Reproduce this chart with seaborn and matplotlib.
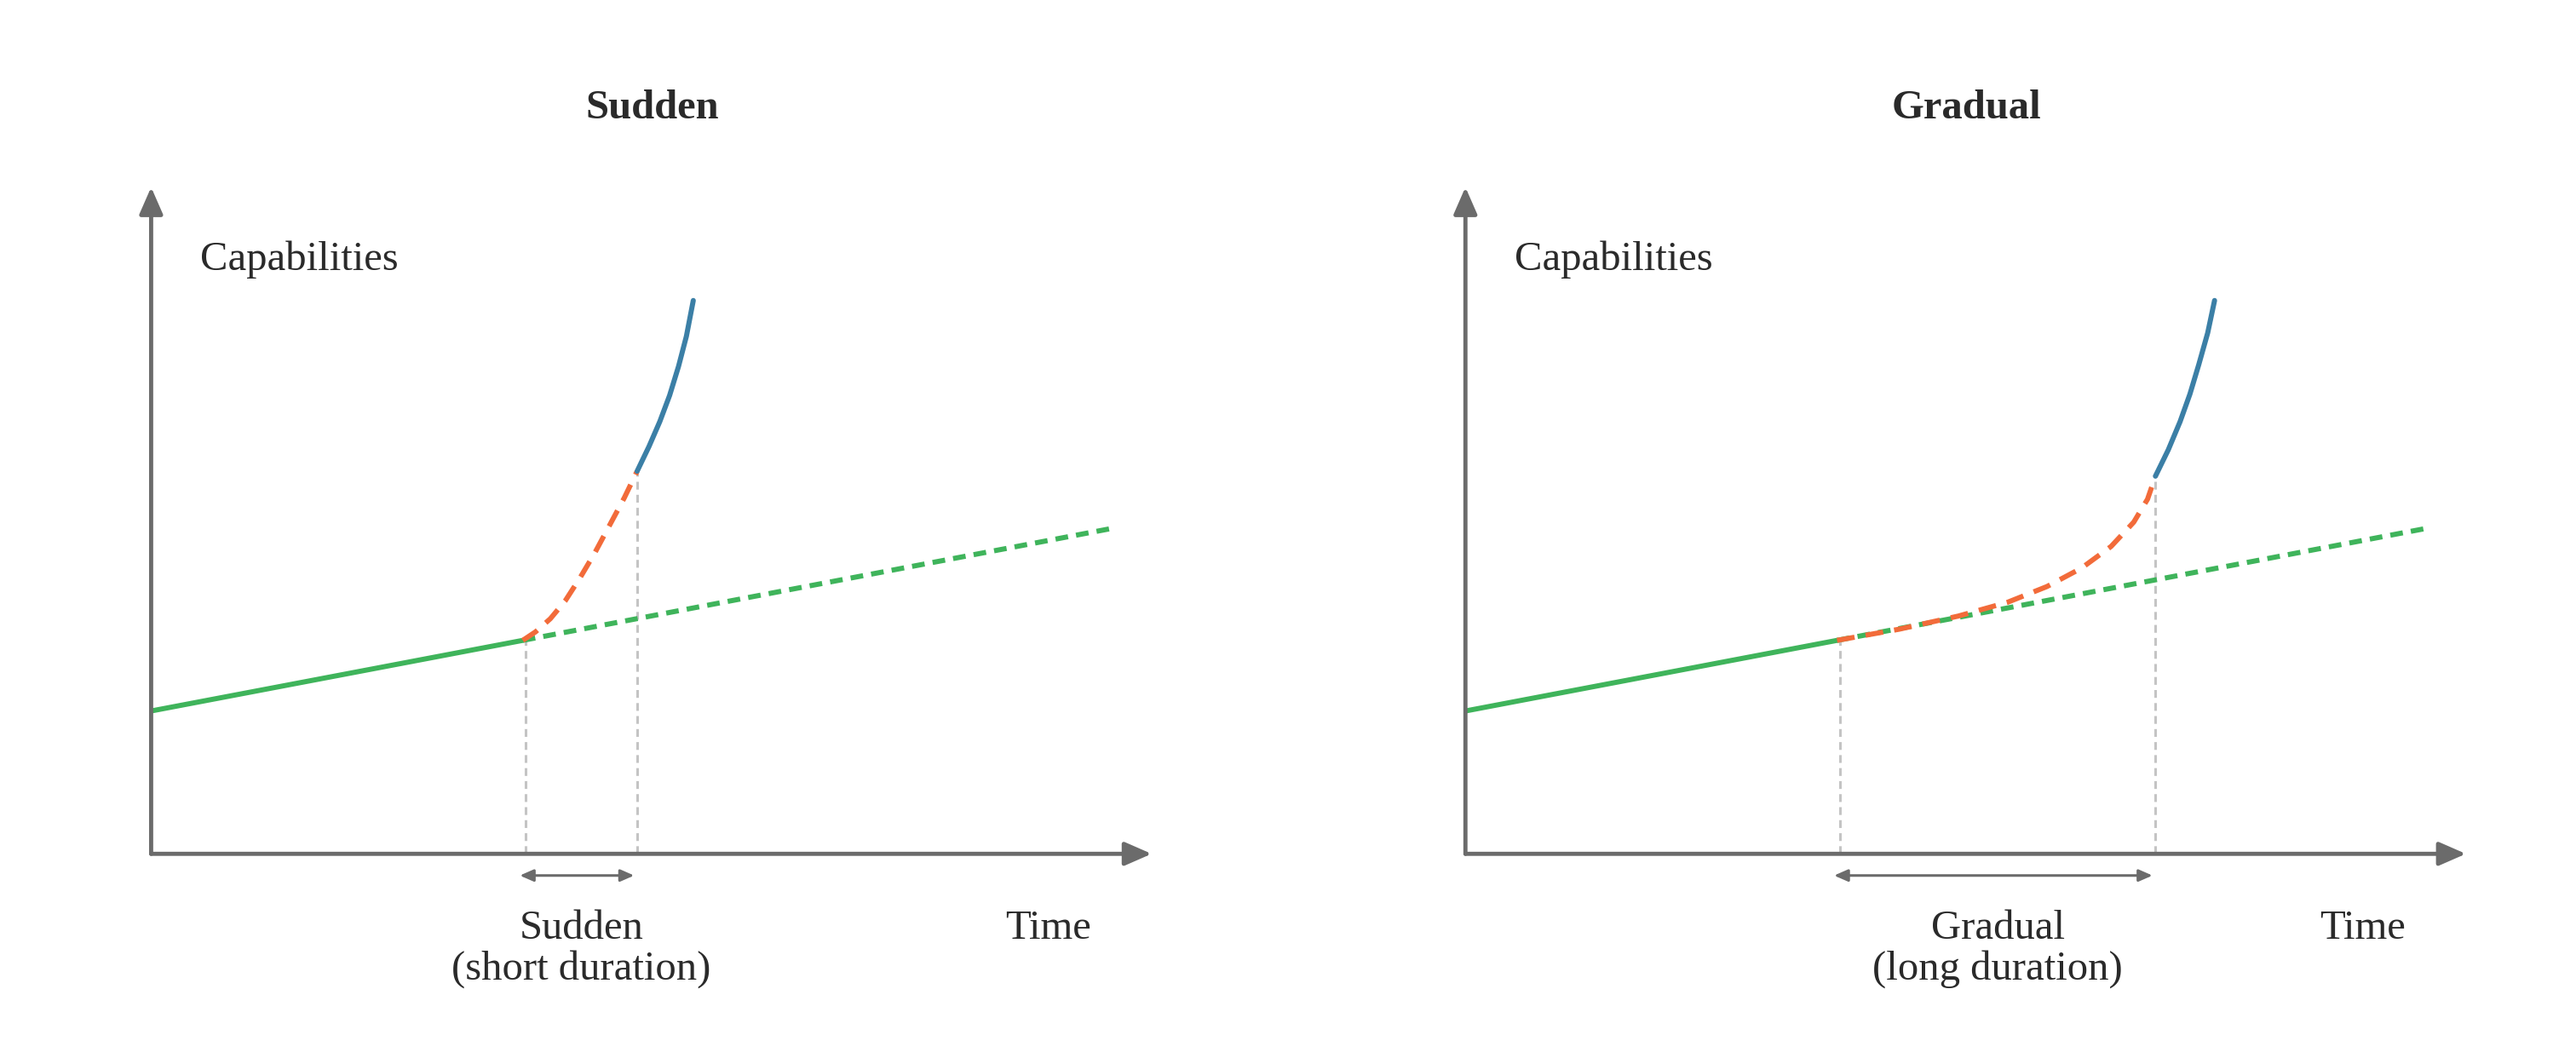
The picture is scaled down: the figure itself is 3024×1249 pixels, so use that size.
import numpy as np
import pandas as pd
import seaborn as sns
import matplotlib.pyplot as plt

sns.set_theme(style="white")
plt.rcParams['font.family'] = ['Liberation Serif', 'DejaVu Serif']

# trend line (both panels)
trend_x = [0, 37.7]
trend_y = [21.75, 32.5]
trend_dash_x = [37.7, 97.3]
trend_dash_y = [32.5, 49.5]

# sudden panel
sud_orange_x = [37.7, 39.0, 40.5, 42.0, 43.5, 45.0, 46.5, 48.0, 49.3]
sud_orange_y = [32.5, 33.8, 35.8, 38.5, 42.0, 45.8, 50.0, 54.2, 58.25]
sud_blue_x = [49.3, 50.5, 51.6, 52.6, 53.5, 54.3, 55.0]
sud_blue_y = [58.25, 62.0, 65.8, 69.8, 74.2, 78.8, 84.25]
sud_marks = [38.0, 49.3]

# gradual panel
grad_orange_x = [37.7, 44.0, 50.0, 55.0, 59.0, 62.5, 65.5, 67.8, 69.2, 70.0]
grad_orange_y = [32.5, 34.2, 36.2, 38.3, 40.7, 43.5, 46.8, 50.5, 54.0, 57.5]
grad_blue_x = [70.0, 71.3, 72.5, 73.5, 74.4, 75.3, 76.0]
grad_blue_y = [57.5, 61.5, 65.8, 70.0, 74.5, 79.3, 84.25]
grad_marks = [38.0, 70.0]

green = '#3fb45b'
orange = '#f26b3a'
blue = '#3b7fa6'
grey = '#6b6b6b'
lw = 4.3

fig = plt.figure(figsize=(30.24, 12.49), dpi=100)


def panel(left, title, ox, oy, bx, by, marks, label):
    ax = fig.add_axes([left, 128 / 648, 600 / 1568, 400 / 648])
    ax.set_xlim(0, 100)
    ax.set_ylim(0, 100)
    ax.axis('off')
    # axes arrows
    ax.annotate('', xy=(101.5, 0), xytext=(0, 0), annotation_clip=False,
                arrowprops=dict(arrowstyle='-|>,head_length=1.6,head_width=0.7',
                                color=grey, lw=3.5, shrinkA=0, shrinkB=0))
    ax.annotate('', xy=(0, 101.5), xytext=(0, 0), annotation_clip=False,
                arrowprops=dict(arrowstyle='-|>,head_length=1.6,head_width=0.7',
                                color=grey, lw=3.5, shrinkA=0, shrinkB=0))
    # dashed guides
    tops = [np.interp(marks[0], ox, oy), np.interp(marks[1], ox, oy)]
    for m, t in zip(marks, tops):
        ax.plot([m, m], [0, t], color='#c4c4c4', lw=2.2, ls=(0, (3, 2)))
    sns.lineplot(x=trend_dash_x, y=trend_dash_y, ax=ax, color=green, lw=lw,
                 linestyle=(0, (2.5, 1.6)))
    sns.lineplot(x=trend_x, y=trend_y, ax=ax, color=green, lw=lw)
    sns.lineplot(x=ox, y=oy, ax=ax, color=orange, lw=lw,
                 linestyle=(0, (3.5, 2.2)), sort=False)
    sns.lineplot(x=bx, y=by, ax=ax, color=blue, lw=lw, sort=False)
    # duration arrow
    ax.annotate('', xy=(marks[1] - 0.3, -3.3), xytext=(marks[0] - 0.6, -3.3),
                annotation_clip=False,
                arrowprops=dict(arrowstyle='<|-|>,head_length=0.8,head_width=0.35',
                                color=grey, lw=2.2, shrinkA=0, shrinkB=0))
    ax.text((marks[0] + marks[1]) / 2, -8.5, label, ha='center', va='top',
            fontsize=35, color='#2a2a2a', linespacing=1.1, clip_on=False)
    ax.text(91, -8.5, 'Time', ha='center', va='top', fontsize=35,
            color='#2a2a2a', clip_on=False)
    ax.text(5, 90.5, 'Capabilities', ha='left', va='center', fontsize=35,
            color='#2a2a2a', clip_on=False)
    ax.text(50.8, 113.5, title, ha='center', va='center', fontsize=35,
            fontweight='bold', color='#2a2a2a', clip_on=False)


panel(92 / 1568, 'Sudden', sud_orange_x, sud_orange_y, sud_blue_x, sud_blue_y,
      sud_marks, 'Sudden\n(short duration)')
panel(892 / 1568, 'Gradual', grad_orange_x, grad_orange_y, grad_blue_x,
      grad_blue_y, grad_marks, 'Gradual\n(long duration)')

fig.savefig('out.png', dpi=100, facecolor='white')
